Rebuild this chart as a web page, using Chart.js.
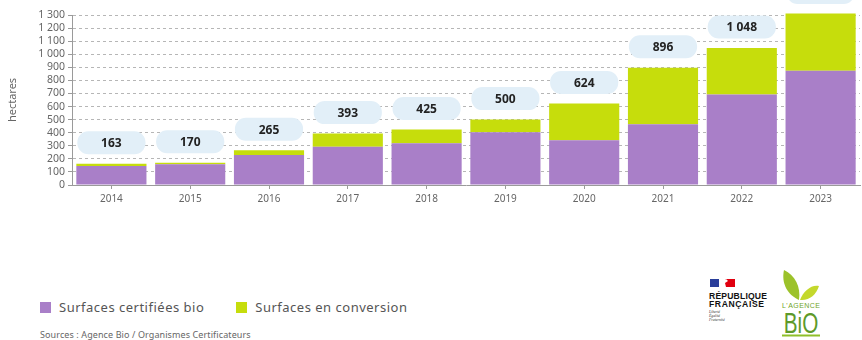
<!DOCTYPE html>
<html lang="fr">
<head>
<meta charset="utf-8">
<script src="https://cdn.jsdelivr.net/npm/chart.js@4/dist/chart.umd.min.js"></script>
<style>
  html, body { margin: 0; padding: 0; background: #fff; }
  body { width: 862px; height: 340px; position: relative; overflow: hidden; font-family: "Noto Sans", Lato, sans-serif; }
  #wrap { position: absolute; left: 0; top: 0; width: 862px; height: 215px; }
  .legend { position: absolute; top: 298px; left: 40px; display: flex; align-items: center; font-size: 13px; color: #555; letter-spacing: 0.5px; }
  .legend .sw { width: 11px; height: 11px; display: inline-block; margin-right: 8px; }
  .legend .item { display: flex; align-items: center; margin-right: 32px; }
  .sources { position: absolute; top: 328px; left: 40px; font-size: 9px; color: #666; letter-spacing: 0.1px; }
  .logos { position: absolute; left: 700px; top: 262px; }
</style>
</head>
<body>
<div id="wrap"><canvas id="chart"></canvas></div>

<div class="legend">
  <span class="item"><span class="sw" style="background:#a97fc8"></span>Surfaces certifiées bio</span>
  <span class="item"><span class="sw" style="background:#c6dd0c"></span>Surfaces en conversion</span>
</div>
<div class="sources">Sources : Agence Bio / Organismes Certificateurs</div>

<svg class="logos" width="160" height="78" viewBox="0 0 160 78">
  <!-- Marianne block -->
  <rect x="10" y="17" width="9" height="8" fill="#2a3e9a"/>
  <rect x="19" y="17" width="6" height="8" fill="#ffffff"/>
  <rect x="25" y="17" width="10" height="8" fill="#e1000f"/>
  <path d="M20 25 C20 21 23 18 26 17 L28 19 L25 21 L26 25 Z" fill="#fff"/>
  <text x="9" y="37" font-family="Liberation Sans, Arial, sans-serif" font-weight="700" font-size="8.6" fill="#111" textLength="58">RÉPUBLIQUE</text>
  <text x="9" y="45" font-family="Liberation Sans, Arial, sans-serif" font-weight="700" font-size="8.6" fill="#111" textLength="55">FRANÇAISE</text>
  <text x="9" y="51" font-family="Liberation Serif, serif" font-style="italic" font-size="3.8" fill="#333">Liberté</text>
  <text x="9" y="55" font-family="Liberation Serif, serif" font-style="italic" font-size="3.8" fill="#333">Égalité</text>
  <text x="9" y="59" font-family="Liberation Serif, serif" font-style="italic" font-size="3.8" fill="#333">Fraternité</text>
  <!-- Agence Bio block -->
  <path d="M99 38 C88 33 81 22 84 8 C95 13 101 25 99 38 Z" fill="#9cc22a"/>
  <path d="M100 38 C103 29 112 22 119 24 C116 33 109 39 100 38 Z" fill="#c4d82c"/>
  <text x="101" y="46" text-anchor="middle" font-family="Liberation Sans, Arial, sans-serif" font-size="7" fill="#6fa52a" textLength="38">L'AGENCE</text>
  <text transform="translate(101,71) scale(0.9,1.3)" text-anchor="middle" font-family="Liberation Sans, Arial, sans-serif" font-size="23" fill="#5e9a2a">BiO</text>
  <rect x="82" y="72.5" width="38" height="2" fill="#8fbf2a"/>
</svg>

<script>
// Surfaces in hectares, per year
const years = ['2014', '2015', '2016', '2017', '2018', '2019', '2020', '2021', '2022', '2023'];
const certifiedBio = [145, 158, 229, 293, 319, 403, 342, 464, 693, 874];
const inConversion = [18, 12, 36, 100, 106, 97, 282, 432, 355, 438];
const yTicks = [0, 100, 200, 300, 400, 500, 600, 700, 800, 900, 1000, 1100, 1200, 1300];

const PURPLE = '#a97fc8';
const GREEN = '#c6dd0c';

// French thousands separator: 1048 -> "1 048"
function frNumber(v) {
  const s = String(Math.round(v));
  return s.replace(/\B(?=(\d{3})+(?!\d))/g, ' ');
}

// Rounded light-blue pill carrying the total above each stacked bar
const totalPills = {
  id: 'totalPills',
  afterDatasetsDraw(chart) {
    const { ctx } = chart;
    const yScale = chart.scales.y;
    const meta = chart.getDatasetMeta(1);
    ctx.save();
    meta.data.forEach((bar, i) => {
      const total = certifiedBio[i] + inConversion[i];
      const w = bar.width - 2;
      const h = 23;
      const cx = bar.x;
      const cy = yScale.getPixelForValue(total) - 21;
      ctx.fillStyle = '#e2eff8';
      ctx.beginPath();
      ctx.roundRect(cx - w / 2, cy - h / 2, w, h, 11);
      ctx.fill();
      ctx.fillStyle = '#222';
      ctx.font = '700 12px "Noto Sans", sans-serif';
      ctx.textAlign = 'center';
      ctx.textBaseline = 'middle';
      ctx.fillText(frNumber(total), cx, cy + 1);
    });
    ctx.restore();
  }
};

new Chart(document.getElementById('chart'), {
  type: 'bar',
  data: {
    labels: years,
    datasets: [
      { label: 'Surfaces certifiées bio', data: certifiedBio, backgroundColor: PURPLE, clip: false },
      { label: 'Surfaces en conversion', data: inConversion, backgroundColor: GREEN, clip: false }
    ]
  },
  options: {
    responsive: true,
    maintainAspectRatio: false,
    animation: false,
    layout: { padding: { top: 15, right: 2, left: 0, bottom: 0 } },
    datasets: { bar: { categoryPercentage: 1, barPercentage: 0.89 } },
    plugins: {
      legend: { display: false },
      tooltip: { enabled: false }
    },
    scales: {
      x: {
        stacked: true,
        grid: { display: true, drawOnChartArea: false, offset: false, tickLength: 4, color: '#9a9a9a' },
        border: { display: true, color: '#9a9a9a' },
        ticks: { color: '#666', font: { size: 10, family: '"Noto Sans", sans-serif' }, padding: 4 },
        afterFit(scale) { scale.height = 30; }
      },
      y: {
        stacked: true,
        min: 0,
        max: 1300,
        afterBuildTicks(scale) { scale.ticks = yTicks.map(v => ({ value: v })); },
        ticks: {
          autoSkip: false,
          color: '#666',
          font: { size: 10.5, family: '"Noto Sans", sans-serif' },
          padding: 3,
          callback: v => frNumber(v)
        },
        grid: { color: '#b6b6b6', lineWidth: 1, tickLength: 4, tickColor: '#9a9a9a', tickBorderDash: [] },
        border: { display: true, color: '#9a9a9a', dash: [3, 3] },
        title: { display: true, text: 'hectares', color: '#666', font: { size: 11, family: '"Noto Sans", sans-serif' }, padding: { top: 6, bottom: 0 } },
        afterFit(scale) { scale.width = 72; }
      }
    }
  },
  plugins: [totalPills]
});
</script>
</body>
</html>
